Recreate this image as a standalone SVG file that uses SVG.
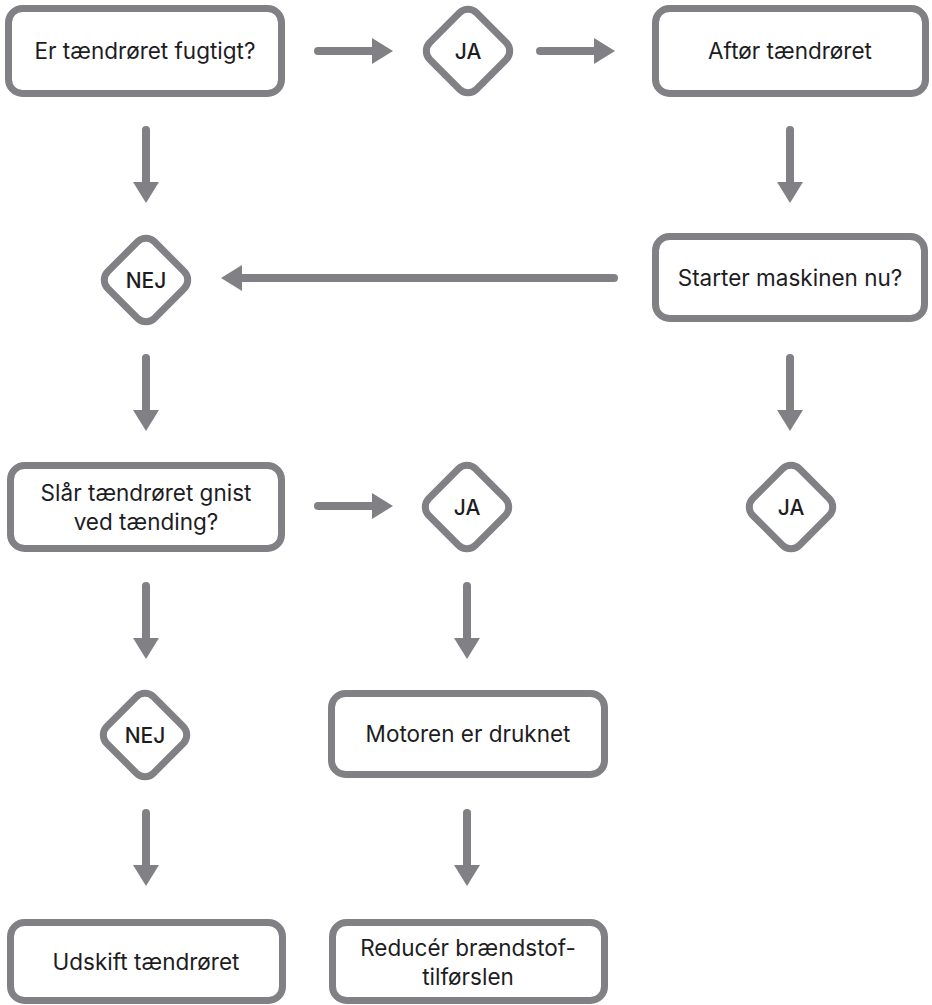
<svg xmlns="http://www.w3.org/2000/svg" width="932" height="1005" viewBox="0 0 932 1005">
<style>
.box{fill:#fff;stroke:#818185;stroke-width:7}
.dia{fill:#fff;stroke:#818185;stroke-width:7}
.t{font-family:Inter,"Liberation Sans",Arial,sans-serif;font-size:22.5px;fill:#1d1d1f;text-anchor:middle}
.d{font-family:Inter,"Liberation Sans",Arial,sans-serif;font-size:21px;fill:#1d1d1f;text-anchor:middle;font-weight:500}
.c{stroke:#818185;stroke-width:8;stroke-linecap:round;fill:none}
</style>
<defs>
<marker id="ah" viewBox="0 0 21 26" refX="0" refY="13" markerWidth="21" markerHeight="26" markerUnits="userSpaceOnUse" orient="auto">
<path d="M0,0 L21,13 L0,26 Z" fill="#818185"/>
</marker>
<rect id="dshape" x="-33" y="-33" width="66" height="66" rx="12" transform="rotate(45)"/>
</defs>
<g id="connectors">
<line class="c" x1="318" y1="51" x2="372" y2="51" marker-end="url(#ah)"/>
<line class="c" x1="540" y1="51" x2="594" y2="51" marker-end="url(#ah)"/>
<line class="c" x1="146" y1="130" x2="146" y2="182" marker-end="url(#ah)"/>
<line class="c" x1="790" y1="130" x2="790" y2="182" marker-end="url(#ah)"/>
<line class="c" x1="614" y1="278" x2="242" y2="278" marker-end="url(#ah)"/>
<line class="c" x1="146" y1="358" x2="146" y2="410" marker-end="url(#ah)"/>
<line class="c" x1="790" y1="358" x2="790" y2="410" marker-end="url(#ah)"/>
<line class="c" x1="318" y1="506" x2="372" y2="506" marker-end="url(#ah)"/>
<line class="c" x1="146" y1="586" x2="146" y2="638" marker-end="url(#ah)"/>
<line class="c" x1="467" y1="586" x2="467" y2="638" marker-end="url(#ah)"/>
<line class="c" x1="146" y1="813" x2="146" y2="865" marker-end="url(#ah)"/>
<line class="c" x1="467" y1="813" x2="467" y2="865" marker-end="url(#ah)"/>
</g>
<g id="n1"><rect class="box" x="8.5" y="8.5" width="273" height="85" rx="14"/><text class="t" x="145" y="59">Er tændrøret fugtigt?</text></g>
<g id="n2" transform="translate(468,51)"><use href="#dshape" class="dia"/><text class="d" x="0" y="7.5">JA</text></g>
<g id="n3"><rect class="box" x="655.5" y="8.5" width="270" height="85" rx="14"/><text class="t" x="790" y="59">Aftør tændrøret</text></g>
<g id="n4" transform="translate(146,280)"><use href="#dshape" class="dia"/><text class="d" x="0" y="7.5">NEJ</text></g>
<g id="n5"><rect class="box" x="655.5" y="236.5" width="269" height="82" rx="14"/><text class="t" x="790" y="286">Starter maskinen nu?</text></g>
<g id="n6"><rect class="box" x="10.5" y="465.5" width="271" height="83" rx="14"/><text class="t" x="146" y="501">Slår tændrøret gnist</text><text class="t" x="146" y="530">ved tænding?</text></g>
<g id="n7" transform="translate(467,507)"><use href="#dshape" class="dia"/><text class="d" x="0" y="7.5">JA</text></g>
<g id="n8" transform="translate(791,507)"><use href="#dshape" class="dia"/><text class="d" x="0" y="7.5">JA</text></g>
<g id="n9" transform="translate(145,735)"><use href="#dshape" class="dia"/><text class="d" x="0" y="7.5">NEJ</text></g>
<g id="n10"><rect class="box" x="331.5" y="693.5" width="273" height="81" rx="14"/><text class="t" x="468" y="742">Motoren er druknet</text></g>
<g id="n11"><rect class="box" x="10.5" y="922.5" width="272" height="78" rx="14"/><text class="t" x="146" y="970">Udskift tændrøret</text></g>
<g id="n12"><rect class="box" x="332.5" y="922.5" width="272" height="78" rx="14"/><text class="t" x="468" y="956">Reducér brændstof-</text><text class="t" x="468" y="985">tilførslen</text></g>
</svg>
